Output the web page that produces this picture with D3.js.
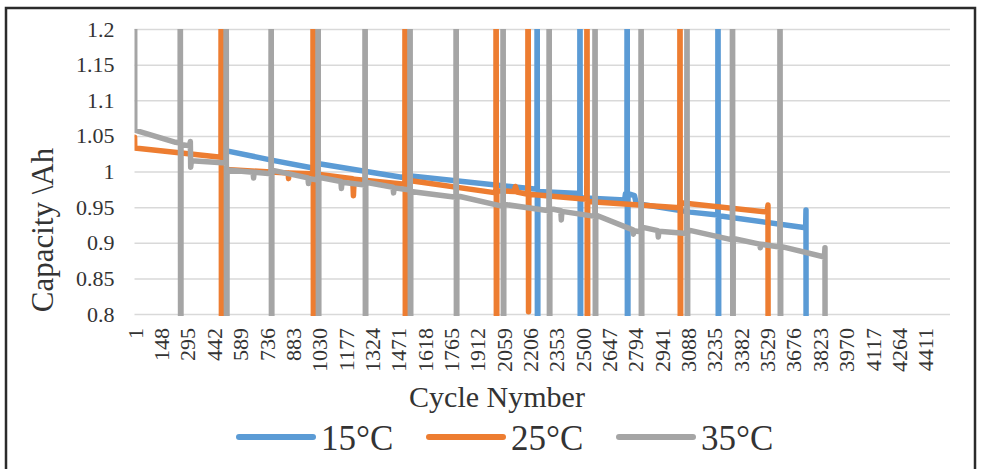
<!DOCTYPE html>
<html>
<head>
<meta charset="utf-8">
<script src="https://cdn.jsdelivr.net/npm/d3@7"></script>
<style>
  body { margin: 0; background: #fff; }
  svg { display: block; }
  svg text { font-family: 'Liberation Serif', 'Times New Roman', serif; fill: #333; }
  .axis .domain { display: none; }
</style>
</head>
<body>
<svg width="981" height="469"></svg>
<script>
// category labels shown on the cycle axis (every 147th cycle)
const xTicks = [1, 148, 295, 442, 589, 736, 883, 1030, 1177, 1324, 1471, 1618, 1765, 1912, 2059,
  2206, 2353, 2500, 2647, 2794, 2941, 3088, 3235, 3382, 3529, 3676, 3823, 3970, 4117, 4264, 4411]
const yTicks = [0.8, 0.85, 0.9, 0.95, 1, 1.05, 1.1, 1.15, 1.2]
const cycleCount = 4550

// 15°C  (1.5 / 0 are the off-scale spikes in the logged data)
const blueCycles = [515, 765, 995, 1030, 1490, 1530, 2246, 2247, 2250, 2251, 2485, 2486, 2489, 2490,
  2735, 2740, 2748, 2749, 2752, 2754, 2790, 2800, 3100, 3255, 3256, 3259, 3260, 3745, 3747, 3750]
const blueCap = [1.029, 1.016, 1.005, 1.011, 0.992, 0.994, 0.975, 1.5, 0, 0.972, 0.969, 1.5, 0, 0.963,
  0.96, 0.969, 0.97, 1.5, 0, 0.969, 0.966, 0.955, 0.943, 0.939, 1.5, 0, 0.938, 0.921, 0.946, 0]

// 25°C
const orangeCycles = [1, 2, 483, 484, 487, 488, 858, 860, 862, 996, 997, 1000, 1001, 1218, 1222, 1226,
  1509, 1510, 1513, 1514, 2017, 2018, 2021, 2022, 2120, 2126, 2135, 2195, 2196, 2199, 2201,
  2524, 2525, 2528, 2529, 3043, 3044, 3047, 3048, 3530, 3535, 3538]
const orangeCap = [1.048, 1.033, 1.02, 1.5, 0, 1.003, 0.998, 0.99, 0.998, 0.997, 1.5, 0, 0.997, 0.99, 0.966, 0.989,
  0.982, 1.5, 0, 0.988, 0.97, 1.5, 0, 0.973, 0.972, 0.979, 0.971, 0.968, 1.5, 0.803, 0.968,
  0.961, 1.5, 0, 0.958, 0.949, 1.5, 0, 0.956, 0.943, 0.953, 0]

// 35°C
const grayCycles = [1, 2, 230, 255, 256, 259, 260, 310, 312, 314, 318, 511, 512, 515, 517, 662, 665, 668,
  762, 763, 766, 767, 968, 971, 974, 1024, 1025, 1028, 1029, 1152, 1155, 1158, 1286, 1287, 1290, 1291,
  1443, 1446, 1449, 1537, 1538, 1541, 1542, 1794, 1795, 1798, 1799, 2056, 2057, 2060, 2061,
  2313, 2314, 2317, 2318, 2379, 2382, 2385, 2569, 2570, 2573, 2574, 2781, 2784, 2787,
  2826, 2827, 2830, 2831, 2920, 2923, 2926, 3082, 3083, 3086, 3087, 3336, 3337, 3340, 3341,
  3489, 3492, 3495, 3601, 3602, 3605, 3606, 3850, 3853, 3856]
const grayCap = [1.5, 1.058, 1.041, 1.04, 1.5, 0, 1.038, 1.036, 1.042, 1.006, 1.015, 1.012, 1.5, 0, 1.002, 0.999, 0.991, 0.999,
  0.997, 1.5, 0, 1.002, 0.991, 0.983, 0.99, 0.988, 1.5, 0, 0.992, 0.986, 0.976, 0.985, 0.981, 1.5, 0, 0.985,
  0.978, 0.97, 0.977, 0.974, 1.5, 0, 0.972, 0.964, 1.5, 0, 0.966, 0.951, 1.5, 0, 0.954,
  0.945, 1.5, 0, 0.948, 0.945, 0.932, 0.944, 0.937, 1.5, 0, 0.939, 0.918, 0.912, 0.917,
  0.915, 1.5, 0, 0.922, 0.917, 0.908, 0.916, 0.913, 1.5, 0, 0.918, 0.904, 1.5, 0, 0.906,
  0.898, 0.893, 0.898, 0.894, 1.5, 0, 0.895, 0.88, 0.893, 0]

const seriesNames = ['15°C', '25°C', '35°C']
const colors = ['#5B9BD5', '#ED7D31', '#A5A5A5']
const serif = "'Liberation Serif', 'Times New Roman', serif"

const series = [
  {cycles: blueCycles, values: blueCap},
  {cycles: orangeCycles, values: orangeCap},
  {cycles: grayCycles, values: grayCap},
]

const svg = d3.select('svg')
svg.append('rect').attr('width', 981).attr('height', 469).attr('fill', '#fff')

// outer frame of the figure
svg.append('rect')
  .attr('x', 6).attr('y', 8)
  .attr('width', 969).attr('height', 490)
  .attr('fill', 'none')
  .attr('stroke', '#2b2b2b')
  .attr('stroke-width', 2.5)

const plot = {left: 134.5, right: 950, top: 29, bottom: 314}

const x = d3.scaleLinear().domain([0.5, cycleCount + 0.5]).range([plot.left, plot.right])
const y = d3.scaleLinear().domain([0.8, 1.2]).range([plot.bottom, plot.top])

// gridlines
svg.append('g')
  .attr('class', 'grid')
  .attr('transform', `translate(${plot.left}, 0)`)
  .call(d3.axisLeft(y).tickValues(yTicks).tickSize(-(plot.right - plot.left)).tickFormat(''))
  .call(g => g.select('.domain').remove())
  .selectAll('line')
  .attr('stroke', '#d9d9d9')
  .attr('stroke-width', 1.5)

svg.append('clipPath').attr('id', 'clip')
  .append('rect')
  .attr('x', plot.left).attr('y', plot.top)
  .attr('width', plot.right - plot.left).attr('height', plot.bottom - plot.top + 2)

const line = d3.line()
  .x(d => x(d[0]))
  .y(d => y(d[1]))

const lines = svg.append('g').attr('clip-path', 'url(#clip)')
series.forEach((s, i) => {
  lines.append('path')
    .datum(s.cycles.map((c, j) => [c, s.values[j]]))
    .attr('d', line)
    .attr('fill', 'none')
    .attr('stroke', colors[i])
    .attr('stroke-width', 5.5)
    .attr('stroke-linejoin', 'round')
    .attr('stroke-linecap', 'round')
})

// y axis
const yAxis = svg.append('g')
  .attr('class', 'axis')
  .attr('transform', `translate(${plot.left}, 0)`)
  .call(d3.axisLeft(y).tickValues(yTicks).tickSize(0).tickPadding(20).tickFormat(d3.format('~g')))
yAxis.selectAll('text')
  .style('font-family', serif)
  .style('font-size', '22px')

// x axis, labels turned upright
const xAxis = svg.append('g')
  .attr('class', 'axis')
  .attr('transform', `translate(0, ${plot.bottom})`)
  .call(d3.axisBottom(x).tickValues(xTicks).tickSize(0).tickFormat(d3.format('d')))
xAxis.selectAll('text')
  .attr('transform', 'rotate(-90)')
  .attr('x', -14)
  .attr('y', 0)
  .attr('dy', '0.35em')
  .style('text-anchor', 'end')
  .style('font-family', serif)
  .style('font-size', '22px')

svg.append('text')
  .attr('transform', 'translate(53, 230) rotate(-90)')
  .attr('text-anchor', 'middle')
  .style('font-size', '31px')
  .text('Capacity \\Ah')

svg.append('text')
  .attr('x', 497).attr('y', 407)
  .attr('text-anchor', 'middle')
  .style('font-size', '30px')
  .text('Cycle Nymber')

// legend
const legend = svg.append('g').attr('transform', 'translate(239, 437)')
seriesNames.forEach((name, i) => {
  const item = legend.append('g').attr('transform', `translate(${i * 190}, 0)`)
  item.append('line')
    .attr('x1', 0).attr('x2', 74)
    .attr('stroke', colors[i])
    .attr('stroke-width', 6)
    .attr('stroke-linecap', 'round')
  item.append('text')
    .attr('x', 82).attr('y', 13)
    .style('font-size', '35px')
    .text(name)
})
</script>
</body>
</html>
